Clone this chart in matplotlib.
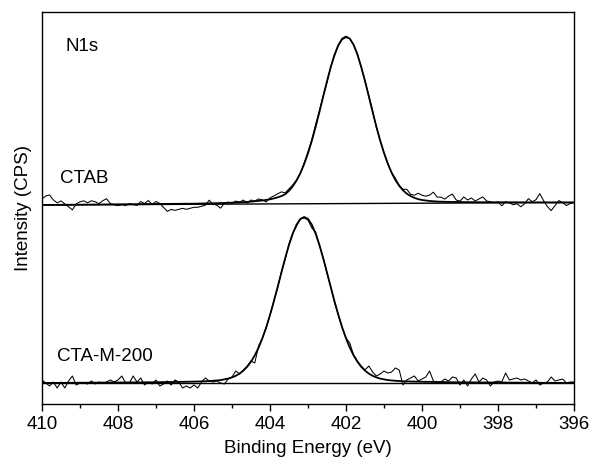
import numpy as np
import matplotlib.pyplot as plt

plt.rcParams['font.family'] = ['Liberation Sans', 'DejaVu Sans']

# binding energy grid of the raw scans (0.1 eV step, 410 -> 396 eV)
energy = np.linspace(410.0, 396.0, 141)

# raw counts above background (arb. units), one row per eV
raw_ctab = [
    6, 9, 10, 5, 2, 4, 1, -2, -5, 1,
    3, 4, 2, 4, 3, 1, 4, 6, 1, 0,
    -1, 0, -1, 1, 0, -1, 3, 1, 4, 0,
    3, 1, -3, -7, -5, -6, -5, -4, -5, -4,
    -3, -3, -2, -1, 4, 0, -1, -4, 1, 2,
    1, 3, 2, 4, 1, 4, 3, 5, 4, 2,
    6, 8, 10, 12, 11, 15, 19, 24, 31, 41,
    52, 64, 79, 93, 108, 121, 137, 148, 158, 164,
    166, 165, 159, 150, 136, 123, 108, 93, 76, 63,
    51, 40, 31, 25, 18, 14, 14, 9, 8, 10,
    8, 7, 8, 11, 6, 6, 4, 7, 9, 3,
    2, 6, 3, 5, 2, 4, 6, 2, 1, 0,
    1, -3, 1, 0, -2, -1, -4, -1, 4, 1,
    3, 9, 2, -4, -8, -3, 2, 0, -3, -1,
    0,
]
raw_ctam = [
    3, 0, -3, 1, -5, 1, -5, 2, 7, -2,
    0, 0, -1, 2, -1, 1, 0, 1, 3, 1,
    3, 7, 0, 0, 7, 1, 5, -2, 1, -1,
    3, -3, -1, 2, -2, 3, 1, -5, -3, -5,
    -2, -5, 1, 5, 2, 1, 2, 0, -1, 4,
    6, 12, 9, 13, 17, 22, 20, 37, 45, 55,
    68, 82, 95, 111, 124, 139, 150, 157, 164, 165,
    163, 155, 151, 138, 125, 110, 96, 80, 68, 55,
    45, 40, 28, 22, 17, 13, 17, 11, 7, 9,
    12, 10, 11, 15, 13, -2, 3, 5, 7, 2,
    4, 6, 12, 2, 0, 1, 4, 2, 6, 5,
    -2, 3, -3, 4, 9, 1, 5, 3, -3, 1,
    2, 1, 10, 3, 4, 5, 3, 4, 2, 0,
    3, -2, 0, 1, 6, 2, 3, 4, 0, 1,
    1,
]

# fitted N1s components above background
fit_ctab_x = [410.0, 406.0, 405.5, 405.0, 404.8, 404.6, 404.4, 404.2, 404.0, 403.9,
              403.8, 403.7, 403.6, 403.5, 403.4, 403.3, 403.2, 403.1, 403.0, 402.9,
              402.8, 402.7, 402.6, 402.5, 402.4, 402.3, 402.2, 402.1, 402.0, 401.9,
              401.8, 401.7, 401.6, 401.5, 401.4, 401.3, 401.2, 401.1, 401.0, 400.9,
              400.8, 400.7, 400.6, 400.5, 400.4, 400.3, 400.2, 400.1, 400.0, 399.8,
              399.6, 399.4, 399.2, 399.0, 398.5, 398.0, 396.0]
fit_ctab_y = [0, 0.6, 0.9, 1.4, 1.7, 2.1, 2.7, 3.5, 4.6, 5.5,
              6.5, 7.8, 9.6, 13.0, 17.5, 23.3, 30.6, 39.7, 50.4, 62.8,
              76.7, 91.6, 107.1, 122.4, 136.7, 149.1, 158.7, 164.9, 167.0, 164.9,
              158.7, 149.1, 136.7, 122.4, 107.1, 91.6, 76.7, 62.8, 50.4, 39.7,
              30.6, 23.3, 17.5, 13.0, 9.6, 7.2, 5.4, 4.1, 3.2, 2.2,
              1.6, 1.3, 1.1, 1.0, 0.7, 0.6, 0]
fit_ctam_x = [410.0, 407.1, 406.6, 406.1, 405.9, 405.7, 405.5, 405.3, 405.1, 405.0,
              404.9, 404.8, 404.7, 404.6, 404.5, 404.4, 404.3, 404.2, 404.1, 404.0,
              403.9, 403.8, 403.7, 403.6, 403.5, 403.4, 403.3, 403.2, 403.1, 403.0,
              402.9, 402.8, 402.7, 402.6, 402.5, 402.4, 402.3, 402.2, 402.1, 402.0,
              401.9, 401.8, 401.7, 401.6, 401.5, 401.4, 401.3, 401.2, 401.1, 400.9,
              400.7, 400.5, 400.3, 400.1, 399.6, 399.1, 396.0]
fit_ctam_y = [0, 0.7, 1.0, 1.3, 1.5, 1.7, 2.2, 2.9, 4.4, 5.6,
              7.2, 9.4, 12.4, 16.2, 21.3, 27.6, 35.4, 44.7, 55.6, 67.9,
              81.4, 95.8, 110.4, 124.8, 138.1, 149.5, 158.4, 164.1, 166.0, 164.1,
              158.4, 149.5, 138.1, 124.8, 110.4, 95.8, 81.4, 67.9, 55.6, 44.7,
              35.4, 27.6, 21.3, 16.2, 12.4, 9.4, 7.2, 5.6, 4.4, 2.9,
              2.2, 1.7, 1.5, 1.3, 1.0, 0.7, 0]

# linear backgrounds (endpoints at 410 and 396 eV)
bg_x = [410.0, 396.0]
bg_ctab = [0.0, 2.5]
bg_ctam = [0.0, 0.0]

# vertical stacking offsets
off_ctab = 199
off_ctam = 21


def background(x, bg):
    return np.interp(x, bg_x[::-1], bg[::-1])


fig = plt.figure(figsize=(5.92, 4.65), dpi=100)
ax = fig.add_axes([0.0709, 0.1312, 0.8987, 0.8430])

for raw, fx, fy, bg, off in [(raw_ctab, fit_ctab_x, fit_ctab_y, bg_ctab, off_ctab),
                             (raw_ctam, fit_ctam_x, fit_ctam_y, bg_ctam, off_ctam)]:
    fx = np.array(fx)
    ax.plot(energy, off + background(energy, bg) + np.array(raw), color='black', lw=0.75)
    ax.plot(fx, off + background(fx, bg) + np.array(fy), color='black', lw=1.3)
    ax.plot(bg_x, off + np.array(bg), color='black', lw=1.0)

ax.set_xlim(410, 396)
ax.set_ylim(0, 392)
ax.set_xticks([410, 408, 406, 404, 402, 400, 398, 396])
ax.set_xticks([409, 407, 405, 403, 401, 399, 397], minor=True)
ax.set_yticks([])
ax.tick_params(axis='x', which='major', direction='out', length=5, width=1.0,
               labelsize=13.5, pad=4)
ax.tick_params(axis='x', which='minor', direction='out', length=3, width=1.0)
for sp in ax.spines.values():
    sp.set_linewidth(1.0)

ax.set_xlabel('Binding Energy (eV)', fontsize=13.5, labelpad=5)
ax.set_ylabel('Intensity (CPS)', fontsize=13.5, labelpad=7)

ax.text(0.045, 0.911, 'N1s', transform=ax.transAxes, fontsize=13.5, va='center')
ax.text(0.034, 0.574, 'CTAB', transform=ax.transAxes, fontsize=13.5, va='center')
ax.text(0.028, 0.12, 'CTA-M-200', transform=ax.transAxes, fontsize=13.5, va='center')

fig.savefig('out.png', dpi=100)
